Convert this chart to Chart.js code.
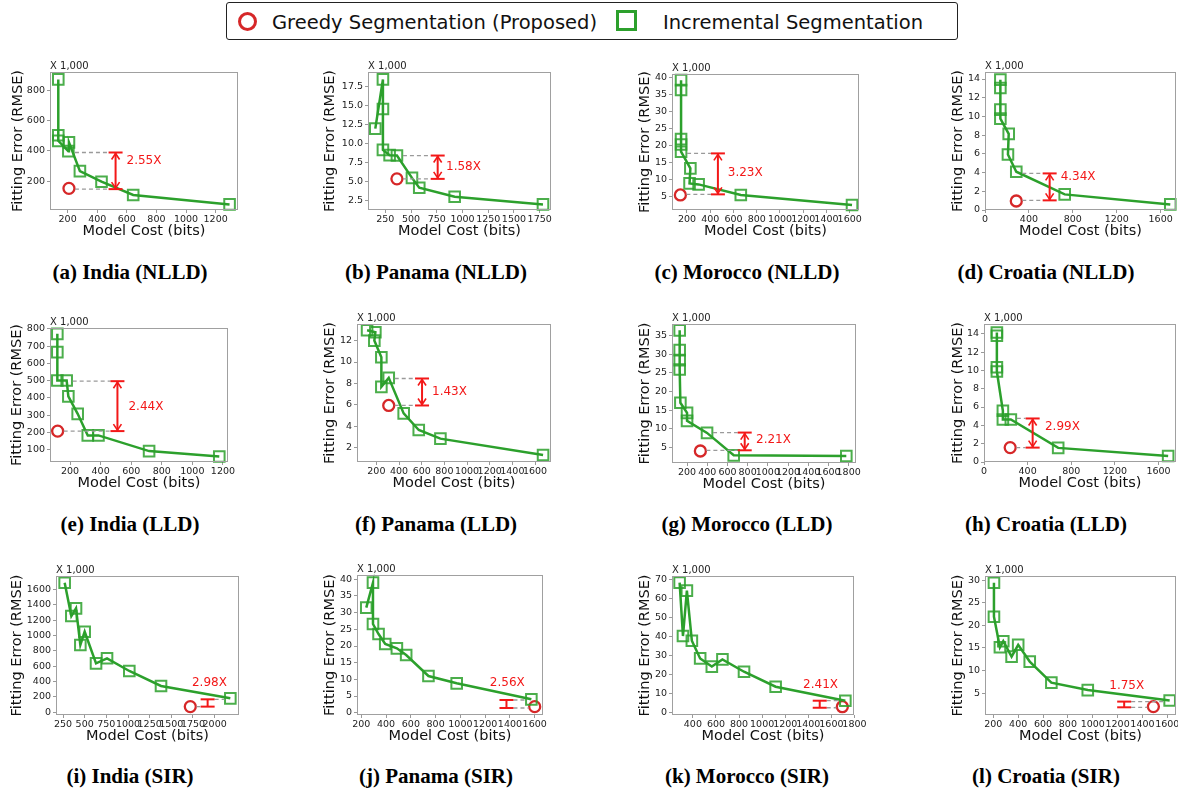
<!DOCTYPE html>
<html>
<head>
<meta charset="utf-8">
<script src="https://cdn.jsdelivr.net/npm/chart.js@4.4.1/dist/chart.umd.min.js"></script>
<style>
  html, body { margin: 0; padding: 0; background: #fff; overflow: hidden; }
  body { width: 1178px; height: 789px; position: relative; font-family: 'DejaVu Sans', sans-serif; }
  canvas { position: absolute; }
  .legend { position: absolute; left: 226px; top: 2px; width: 732px; height: 38px; box-sizing: border-box;
            border: 1.5px solid #222; border-radius: 3px; }
  .mk { position: absolute; box-sizing: border-box; border-width: 3px; border-style: solid; }
  .lt { position: absolute; top: 8px; font-size: 19.5px; line-height: 24px; color: #111; white-space: nowrap; }
  .cap { position: absolute; width: 300px; text-align: center; font: bold 21px 'Liberation Serif', serif;
         line-height: 24px; color: #000; white-space: nowrap; }
</style>
</head>
<body>
<div class="legend">
  <div class="mk" style="left:11px;top:9px;width:19px;height:19px;border-radius:50%;border-color:#d62728"></div>
  <div class="lt" style="left:45px">Greedy Segmentation (Proposed)</div>
  <div class="mk" style="left:389px;top:7px;width:21px;height:21px;border-color:#2ca02c"></div>
  <div class="lt" style="left:436px">Incremental Segmentation</div>
</div>
<script>
// ------------------------------------------------------------
//  Model cost (bits) vs fitting error (RMSE, x1000)
// ------------------------------------------------------------

// (a) India (NLLD)
const costA   = [137, 137, 137, 205, 209, 283, 429, 643, 1294];
const errA    = [872, 503, 466, 398, 456, 266, 196, 108, 46];
const greedyA = [209, 152];
const gapA    = [524, 389, 147];
const xTicksA = [200, 400, 600, 800, 1000, 1200];
const yTicksA = [200, 400, 600, 800];

// (b) Panama (NLLD)
const costB   = [153, 227, 227, 227, 292, 363, 509, 580, 924, 1782];
const errB    = [12.0, 18.5, 14.6, 9.2, 8.5, 8.45, 5.5, 4.2, 3.0, 2.0];
const greedyB = [363, 5.37];
const gapB    = [759, 8.45, 5.37];
const xTicksB = [250, 500, 750, 1000, 1250, 1500, 1750];
const yTicksB = [2.5, 5, 7.5, 10, 12.5, 15, 17.5];

// (c) Morocco (NLLD)
const costC   = [149, 149, 149, 149, 149, 229, 222, 300, 663, 1620];
const errC    = [39.2, 36.3, 21.9, 20.3, 18.2, 13.3, 8.9, 8.6, 5.5, 2.56];
const greedyC = [143, 5.5];
const gapC    = [466, 17.7, 5.68];
const xTicksC = [200, 400, 600, 800, 1000, 1200, 1400, 1600];
const yTicksC = [5, 10, 15, 20, 25, 30, 35, 40];

// (d) Croatia (NLLD)
const costD   = [140, 140, 140, 140, 216, 209, 285, 726, 1688];
const errD    = [13.93, 13.04, 10.73, 9.77, 8.14, 5.93, 4.09, 1.67, 0.6];
const greedyD = [285, 0.96];
const gapD    = [589, 3.91, 1.03];
const xTicksD = [0, 400, 800, 1200, 1600];
const yTicksD = [0, 2, 4, 6, 8, 10, 12, 14];

// (e) India (LLD)
const costE   = [117, 117, 117, 178, 189, 250, 316, 386, 717, 1176];
const errE    = [771, 665, 501, 501, 409, 308, 183, 183, 92, 61];
const greedyE = [119, 208];
const gapE    = [510, 497, 208];
const xTicksE = [200, 400, 600, 800, 1000, 1200];
const yTicksE = [100, 200, 300, 400, 500, 600, 700, 800];

// (f) Panama (LLD)
const costF   = [118, 191, 182, 244, 244, 309, 441, 574, 765, 1671];
const errF    = [12.96, 12.78, 12.0, 10.45, 7.68, 8.52, 5.2, 3.65, 2.84, 1.32];
const greedyF = [309, 5.94];
const gapF    = [603, 8.46, 5.94];
const xTicksF = [200, 400, 600, 800, 1000, 1200, 1400, 1600];
const yTicksF = [2, 4, 6, 8, 10, 12];

// (g) Morocco (LLD)
const costG   = [127, 127, 127, 127, 134, 200, 200, 398, 662, 1777];
const errG    = [36.4, 31.1, 28.4, 25.9, 16.95, 14.25, 12.1, 8.86, 2.84, 2.66];
const greedyG = [332, 4.0];
const gapG    = [771, 8.95, 4.19];
const xTicksG = [200, 400, 600, 800, 1000, 1200, 1400, 1600, 1800];
const yTicksG = [5, 10, 15, 20, 25, 30, 35];

// (h) Croatia (LLD)
const costH   = [118, 118, 118, 118, 173, 173, 246, 680, 1688];
const errH    = [14.14, 13.78, 10.34, 9.87, 5.59, 4.64, 4.64, 1.54, 0.66];
const greedyH = [240, 1.57];
const gapH    = [446, 4.75, 1.57];
const xTicksH = [0, 400, 800, 1200, 1600];
const yTicksH = [0, 2, 4, 6, 8, 10, 12, 14];

// (i) India (SIR)
const costI   = [269, 346, 400, 450, 500, 631, 758, 1015, 1381, 2181];
const errI    = [1687, 1253, 1353, 876, 1049, 637, 703, 538, 343, 182];
const greedyI = [1719, 74];
const gapI    = [1919, 169, 74];
const xTicksI = [250, 500, 750, 1000, 1250, 1500, 1750, 2000];
const yTicksI = [0, 200, 400, 600, 800, 1000, 1200, 1400, 1600];

// (j) Panama (SIR)
const costJ   = [240, 294, 294, 339, 393, 487, 562, 742, 970, 1573];
const errJ    = [31.5, 39.0, 26.6, 23.6, 20.6, 19.3, 17.3, 11.0, 8.8, 4.0];
const greedyJ = [1600, 1.8];
const gapJ    = [1372, 3.8, 1.4];
const xTicksJ = [200, 400, 600, 800, 1000, 1200, 1400, 1600];
const yTicksJ = [0, 5, 10, 15, 20, 25, 30, 35, 40];

// (k) Morocco (SIR)
const costK   = [285, 314, 348, 391, 463, 564, 656, 843, 1117, 1721];
const errK    = [68.25, 40.25, 64.05, 37.8, 28.5, 24.2, 28.0, 21.5, 13.65, 6.3];
const greedyK = [1695, 3.15];
const gapK    = [1499, 6.3, 2.6];
const xTicksK = [400, 600, 800, 1000, 1200, 1400, 1600, 1800];
const yTicksK = [0, 10, 20, 30, 40, 50, 60, 70];

// (l) Croatia (SIR)
const costL   = [205, 205, 253, 280, 347, 400, 493, 667, 960, 1619];
const errL    = [29.4, 21.9, 15.15, 16.5, 13.1, 15.7, 12.0, 7.35, 5.7, 3.4];
const greedyL = [1488, 2.06];
const gapL    = [1253, 3.16, 1.9];
const xTicksL = [200, 400, 600, 800, 1000, 1200, 1400, 1600];
const yTicksL = [5, 10, 15, 20, 25, 30];

// box = [plot left, plot top, plot right, plot bottom, y-title centre]
const panels = [
  { cap: '(a) India (NLLD)',   c: costA, e: errA, g: greedyA, gap: gapA, gain: '2.55X', xt: xTicksA, yt: yTicksA, xr: [81, 1351],  yr: [9, 921],      hiFrom: 209,  tag: [598, 332],  box: [50, 72, 238, 210, 19] },
  { cap: '(b) Panama (NLLD)',  c: costB, e: errB, g: greedyB, gap: gapB, gain: '1.58X', xt: xTicksB, yt: yTicksB, xr: [82, 1860],  yr: [1.26, 19.48], hiFrom: 363,  tag: [840, 7.0],  box: [368, 72, 551, 210, 331], yd: 1 },
  { cap: '(c) Morocco (NLLD)', c: costC, e: errC, g: greedyC, gap: gapC, gain: '3.23X', xt: xTicksC, yt: yTicksC, xr: [71, 1680],  yr: [1.09, 41.0],  hiFrom: 149,  tag: [551, 12.1], box: [672, 74, 859, 210, 646] },
  { cap: '(d) Croatia (NLLD)', c: costD, e: errD, g: greedyD, gap: gapD, gain: '4.34X', xt: xTicksD, yt: yTicksD, xr: [0, 1740],   yr: [0, 14.75],    hiFrom: 285,  tag: [689, 3.52], box: [985, 72, 1176, 210, 959] },
  { cap: '(e) India (LLD)',    c: costE, e: errE, g: greedyE, gap: gapE, gain: '2.44X', xt: xTicksE, yt: yTicksE, xr: [69, 1233],  yr: [29, 805],     hiFrom: 178,  tag: [582, 347],  box: [50, 328, 228, 462, 18] },
  { cap: '(f) Panama (LLD)',   c: costF, e: errF, g: greedyF, gap: gapF, gain: '1.43X', xt: xTicksF, yt: yTicksF, xr: [29, 1741],  yr: [0.66, 13.55], hiFrom: 309,  tag: [691, 7.19], box: [357, 324, 551, 462, 331] },
  { cap: '(g) Morocco (LLD)',  c: costG, e: errG, g: greedyG, gap: gapG, gain: '2.21X', xt: xTicksG, yt: yTicksG, xr: [51, 1873],  yr: [0.78, 38.1],  hiFrom: 398,  tag: [883, 6.9],  box: [672, 324, 856, 463, 646] },
  { cap: '(h) Croatia (LLD)',  c: costH, e: errH, g: greedyH, gap: gapH, gain: '2.99X', xt: xTicksH, yt: yTicksH, xr: [0, 1760],   yr: [0, 15.06],    hiFrom: 246,  tag: [559, 3.84], box: [984, 324, 1176, 462, 959] },
  { cap: '(i) India (SIR)',    c: costI, e: errI, g: greedyI, gap: gapI, gain: '2.98X', xt: xTicksI, yt: yTicksI, xr: [169, 2281], yr: [-35, 1774],   hiFrom: 2181, tag: [1738, 377], box: [56, 576, 239, 715, 18] },
  { cap: '(j) Panama (SIR)',   c: costJ, e: errJ, g: greedyJ, gap: gapJ, gain: '2.56X', xt: xTicksJ, yt: yTicksJ, xr: [165, 1667], yr: [-0.7, 41.3],  hiFrom: 1573, tag: [1238, 9.0], box: [357, 575, 543, 715, 331] },
  { cap: '(k) Morocco (SIR)',  c: costK, e: errK, g: greedyK, gap: gapK, gain: '2.41X', xt: xTicksK, yt: yTicksK, xr: [219, 1796], yr: [-1.2, 71.75], hiFrom: 1721, tag: [1355, 14.5], box: [672, 576, 854, 715, 646] },
  { cap: '(l) Croatia (SIR)',  c: costL, e: errL, g: greedyL, gap: gapL, gain: '1.75X', xt: xTicksL, yt: yTicksL, xr: [133, 1670], yr: [0.2, 30.9],   hiFrom: 1619, tag: [1133, 6.6], box: [985, 576, 1176, 715, 959] }
];
const capX = [130, 436, 747, 1046];
const capY = [272, 524, 776];

const GREEN = '#2ca02c', RED = '#d62728', ARROW = '#f31818';
Chart.defaults.font.family = "'DejaVu Sans', sans-serif";

// frame, "X 1,000" and the red gap bracket
const gapMarks = {
    id: 'gapMarks',
    afterDatasetsDraw(chart, args, o) {
        const { ctx, chartArea: a, scales: { x, y } } = chart;
        const seg = (x1, y1, x2, y2) => { ctx.beginPath(); ctx.moveTo(x1, y1); ctx.lineTo(x2, y2); ctx.stroke(); };
        ctx.save();
        ctx.strokeStyle = '#a0a0a0'; ctx.lineWidth = 1;
        ctx.strokeRect(a.left + 0.5, a.top + 0.5, a.width - 1, a.height - 1);
        ctx.fillStyle = '#222'; ctx.font = "10px 'DejaVu Sans'";
        ctx.textAlign = 'left'; ctx.textBaseline = 'alphabetic';
        ctx.fillText('X 1,000', a.left, a.top - 3);

        const px = x.getPixelForValue(o.gap[0]);
        const ph = y.getPixelForValue(o.gap[1]), pl = y.getPixelForValue(o.gap[2]);
        const side = fx => fx < px ? [fx + 6, px - 7] : [px + 7, fx - 6];
        ctx.setLineDash([4, 3]); ctx.strokeStyle = '#9a9a9a'; ctx.lineWidth = 1.3;
        let s = side(x.getPixelForValue(o.hiFrom)); seg(s[0], ph, s[1], ph);
        s = side(x.getPixelForValue(o.g[0]));        seg(s[0], pl, s[1], pl);
        ctx.setLineDash([]);

        ctx.strokeStyle = ARROW; ctx.lineWidth = 2;
        seg(px - 7, ph, px + 7, ph); seg(px - 7, pl, px + 7, pl); seg(px, ph, px, pl);
        if (pl - ph > 14) {
            ctx.lineWidth = 1.6;
            ctx.beginPath(); ctx.moveTo(px - 4, ph + 7); ctx.lineTo(px, ph + 1); ctx.lineTo(px + 4, ph + 7); ctx.stroke();
            ctx.beginPath(); ctx.moveTo(px - 4, pl - 7); ctx.lineTo(px, pl - 1); ctx.lineTo(px + 4, pl - 7); ctx.stroke();
        }
        ctx.fillStyle = ARROW; ctx.font = "12px 'DejaVu Sans'"; ctx.textBaseline = 'middle';
        ctx.fillText(o.gain, x.getPixelForValue(o.tag[0]), y.getPixelForValue(o.tag[1]));
        ctx.restore();
    }
};

const tickFont = { size: 9.5 };
const titleFont = { size: 14.5 };

panels.forEach((p, i) => {
    const [pl, pt, pr, pb, tx] = p.box;
    const left = Math.round(tx - 8.7), top = pt - 16;
    const cv = document.createElement('canvas');
    cv.width = pr - left + 14;
    cv.height = pb - pt + 16 + 30;
    cv.style.left = left + 'px';
    cv.style.top = top + 'px';
    document.body.appendChild(cv);

    const cap = document.createElement('div');
    cap.className = 'cap';
    cap.textContent = p.cap;
    cap.style.left = (capX[i % 4] - 150) + 'px';
    cap.style.top = (capY[Math.floor(i / 4)] - 12) + 'px';
    document.body.appendChild(cap);

    new Chart(cv, {
        type: 'scatter',
        data: {
            datasets: [
                { data: p.c.map((c, k) => ({ x: c, y: p.e[k] })), showLine: true, borderColor: GREEN, borderWidth: 2.5,
                  pointStyle: 'rect', pointRadius: 7.5, pointBorderWidth: 2, pointBorderColor: 'rgba(44,160,44,0.85)',
                  pointBackgroundColor: 'rgba(0,0,0,0)', clip: false },
                { data: [{ x: p.g[0], y: p.g[1] }], pointStyle: 'circle', pointRadius: 5.5, pointBorderWidth: 2.3,
                  pointBorderColor: RED, borderColor: RED, pointBackgroundColor: 'rgba(0,0,0,0)', clip: false }
            ]
        },
        options: {
            responsive: false, animation: false, events: [],
            layout: { padding: { top: 16, right: 14, left: 0, bottom: 0 } },
            plugins: {
                legend: { display: false }, tooltip: { enabled: false },
                gapMarks: { gap: p.gap, g: p.g, hiFrom: p.hiFrom, gain: p.gain, tag: p.tag }
            },
            scales: {
                x: {
                    type: 'linear', min: p.xr[0], max: p.xr[1],
                    afterBuildTicks: s => { s.ticks = p.xt.map(v => ({ value: v })); },
                    afterFit: s => { s.height = 30; },
                    grid: { display: true, drawOnChartArea: false, tickLength: 3, color: '#999' },
                    border: { display: false },
                    ticks: { font: tickFont, color: '#222', padding: 1, autoSkip: false, maxRotation: 0, minRotation: 0,
                             callback: v => String(v) },
                    title: { display: true, text: 'Model Cost (bits)', font: titleFont, color: '#111', padding: 0 }
                },
                y: {
                    min: p.yr[0], max: p.yr[1],
                    afterBuildTicks: s => { s.ticks = p.yt.map(v => ({ value: v })); },
                    afterFit: s => { s.width = pl - left; },
                    grid: { display: true, drawOnChartArea: false, tickLength: 3, color: '#999' },
                    border: { display: false },
                    ticks: { font: tickFont, color: '#222', padding: 2, autoSkip: false,
                             callback: v => p.yd ? v.toFixed(p.yd) : String(v) },
                    title: { display: true, text: 'Fitting Error (RMSE)', font: titleFont, color: '#111', padding: 0 }
                }
            }
        },
        plugins: [gapMarks]
    });
});
</script>
</body>
</html>
